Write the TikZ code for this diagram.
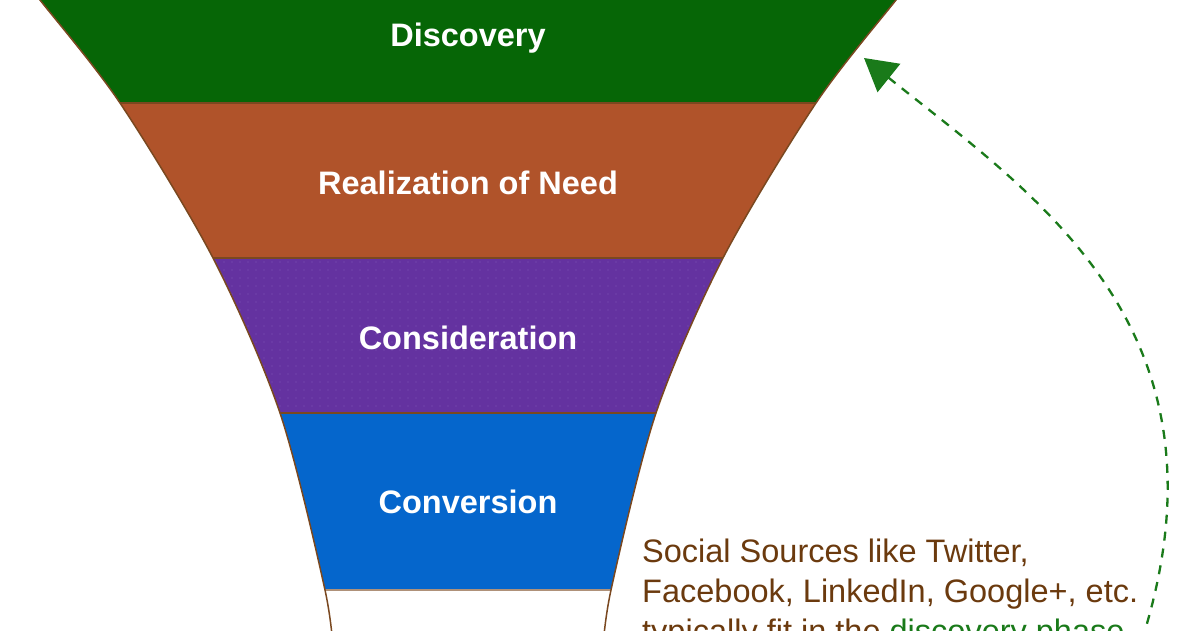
\documentclass[tikz,border=0pt]{standalone}
\usepackage{fontspec}
\setmainfont{Liberation Sans}
\usetikzlibrary{arrows.meta,patterns.meta}
\definecolor{discgreen}{HTML}{066606}
\definecolor{realbrown}{HTML}{B0532A}
\definecolor{conspurple}{HTML}{6432A0}
\definecolor{consdots}{HTML}{7E58B6}
\definecolor{convblue}{HTML}{0566CC}
\definecolor{edgebrown}{HTML}{7A4820}
\definecolor{notebrown}{HTML}{6B3A0E}
\definecolor{arrowgreen}{HTML}{1A7A1A}
\tikzset{
  lbl/.style={text=white, font=\bfseries\fontsize{32.5}{39}\selectfont, inner sep=0pt},
  notetext/.style={text=notebrown, font=\fontsize{32.5}{39}\selectfont, inner sep=0pt, anchor=base west},
  edge/.style={draw=edgebrown, line width=1.5pt},
  flow/.style={draw=arrowgreen, line width=2.3pt, dash pattern=on 9pt off 8pt, -{Triangle[length=32pt,width=36pt]}}
}
\begin{document}
\begin{tikzpicture}[x=1pt,y=-1pt]
\useasboundingbox (0,0) rectangle (1200,630);
\fill[white] (0,0) rectangle (1200,630);
\begin{scope}
\clip plot[smooth] coordinates {(24,-20) (40,0) (120,103) (213,258) (280,413) (325,590) (334,660)}
  -- plot[smooth] coordinates {(602,660) (611,590) (656,413) (723,258) (816,103) (896,0) (912,-20)} -- cycle;
\fill[discgreen] (0,-30) rectangle (1200,103);
\fill[realbrown] (0,103) rectangle (1200,258);
\fill[conspurple] (0,258) rectangle (1200,413);
\fill[pattern={Dots[distance=8pt,radius=0.7pt]}, pattern color=consdots] (0,258) rectangle (1200,413);
\fill[convblue] (0,413) rectangle (1200,590);
\draw[edge] (0,103) -- (1200,103);
\draw[edge] (0,258) -- (1200,258);
\draw[edge] (0,413) -- (1200,413);
\draw[edge, draw=edgebrown!60] (0,590) -- (1200,590);
\end{scope}
\draw[edge] plot[smooth] coordinates {(24,-20) (40,0) (120,103) (213,258) (280,413) (325,590) (334,660)};
\draw[edge] plot[smooth] coordinates {(602,660) (611,590) (656,413) (723,258) (816,103) (896,0) (912,-20)};
\node[lbl] (disc) at (468,38) {Discovery};
\node[lbl] (real) at (468,183) {Realization of Need};
\node[lbl] (cons) at (468,338) {Consideration};
\node[lbl] (conv) at (468,502) {Conversion};
\node[notetext] (note1) at (642,562) {Social Sources like Twitter,};
\node[notetext] (note2) at (642,602) {Facebook, LinkedIn, Google+, etc.};
\node[notetext] (note3) at (642,642) {typically fit in the \textcolor{arrowgreen}{discovery phase}};
\coordinate (arrS) at (1142,640);
\coordinate (arrE) at (864,58);
\draw[flow] (arrS) .. controls (1240,330) and (1036,196) .. (arrE);
\end{tikzpicture}
\end{document}
